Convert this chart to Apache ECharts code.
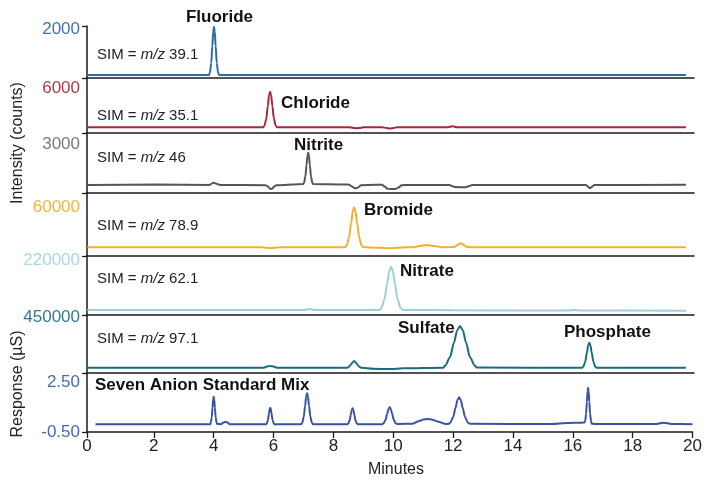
<!DOCTYPE html>
<html>
<head>
<meta charset="utf-8">
<script src="https://cdn.jsdelivr.net/npm/echarts@6/dist/echarts.min.js"></script>
<style>html,body{margin:0;padding:0;background:#fff}#c{width:705px;height:480px}</style>
</head>
<body>
<div id="c"></div>
<script>
// ---- data (minutes, signal) ----
const fluoride = [[-0.22,122],[3.835,122],[3.865,220],[3.908,614],[3.944,1303],[3.975,1893],[4.0,2090],[4.025,1893],[4.056,1303],[4.092,614],[4.135,220],[4.165,122],[10,122],[19.73,122]];
const chloride = [[-0.22,770],[2,760],[4,780],[5.645,770],[5.686,1010],[5.745,1970],[5.794,3650],[5.835,5090],[5.87,5570],[5.905,5090],[5.946,3650],[5.995,1970],[6.054,1010],[6.095,770],[7,760],[8.5,770],[8.65,690],[8.76,630],[8.88,690],[9.0,770],[9.6,770],[9.75,680],[9.87,620],[9.99,680],[10.1,770],[11.8,790],[11.95,900],[12.1,770],[14,770],[16,790],[18,770],[19.73,780]];
const nitrite = [[-0.22,490],[2.1,520],[3.85,490],[3.95,600],[4.0,630],[4.08,560],[4.2,490],[5.72,480],[5.8,400],[5.86,270],[5.9,245],[5.95,280],[6.0,400],[6.08,470],[6.6,520],[6.975,550],[7.005,640],[7.048,1020],[7.084,1700],[7.115,2277],[7.14,2470],[7.165,2277],[7.196,1700],[7.232,1020],[7.275,640],[7.305,550],[8.4,520],[8.5,510],[8.6,400],[8.68,300],[8.72,290],[8.8,340],[8.9,480],[9.4,500],[9.6,500],[9.7,380],[9.78,260],[9.9,245],[10.05,250],[10.15,330],[10.25,470],[10.35,490],[11.85,490],[11.95,420],[12.05,360],[12.35,350],[12.5,420],[12.6,490],[16.4,490],[16.47,380],[16.53,290],[16.6,380],[16.68,490],[19.73,500]];
const bromide = [[-0.22,10800],[5.6,10800],[5.87,9900],[6.2,10800],[8.37,10900],[8.425,13360],[8.503,23220],[8.569,40480],[8.624,55270],[8.67,60200],[8.716,55270],[8.771,40480],[8.837,23220],[8.915,13360],[8.97,11000],[9.2,10600],[9.87,9600],[10.4,10700],[10.6,10800],[10.85,12300],[11.09,13600],[11.35,12300],[11.6,10900],[12.0,11000],[12.1,13200],[12.22,15700],[12.34,13200],[12.45,11000],[12.7,10800],[19.73,10800]];
const nitrate = [[-0.22,20000],[7.0,20000],[7.18,24000],[7.35,20000],[9.51,20000],[9.581,28650],[9.683,63250],[9.769,123800],[9.84,175700],[9.9,193000],[9.96,175700],[10.031,123800],[10.117,63250],[10.219,28650],[10.29,20500],[12,19000],[15.8,18000],[16.0,20000],[16.2,18000],[19.73,17200]];
const sulfate = [[-0.22,43000],[5.65,43000],[5.8,54000],[5.87,57000],[5.95,54000],[6.1,43000],[8.43,43000],[8.5,50000],[8.57,70000],[8.63,90000],[8.67,97000],[8.71,90000],[8.77,70000],[8.84,50000],[8.92,42000],[9.3,34000],[9.9,32000],[10.3,38000],[11.64,43000],[11.71,59900],[11.866,127500],[11.998,245800],[12.108,347200],[12.2,381000],[12.292,347200],[12.402,245800],[12.534,127500],[12.69,59900],[12.76,44000],[16.27,43000],[16.314,53100],[16.376,93500],[16.429,164200],[16.473,224800],[16.51,245000],[16.547,224800],[16.591,164200],[16.644,93500],[16.706,53100],[16.75,43000],[19.73,42000]];
const mix = [[0.05,-0.04],[3.88,-0.04],[3.902,0.043],[3.933,0.375],[3.96,0.956],[3.982,1.454],[4.0,1.62],[4.018,1.454],[4.04,0.956],[4.067,0.375],[4.098,0.043],[4.12,-0.02],[4.25,-0.03],[4.33,0.07],[4.39,0.12],[4.46,0.07],[4.55,-0.04],[5.75,-0.04],[5.775,0.01],[5.812,0.21],[5.843,0.56],[5.868,0.86],[5.89,0.96],[5.912,0.86],[5.937,0.56],[5.968,0.21],[6.005,0.01],[6.03,-0.04],[6.92,-0.04],[6.96,0.053],[7.011,0.425],[7.054,1.076],[7.09,1.634],[7.12,1.82],[7.15,1.634],[7.186,1.076],[7.229,0.425],[7.28,0.053],[7.32,-0.03],[8.465,-0.03],[8.498,0.008],[8.543,0.2],[8.581,0.536],[8.613,0.824],[8.64,0.92],[8.667,0.824],[8.699,0.536],[8.737,0.2],[8.782,0.008],[8.815,-0.03],[9.63,-0.03],[9.677,0.02],[9.741,0.223],[9.796,0.576],[9.842,0.879],[9.88,0.98],[9.918,0.879],[9.964,0.576],[10.019,0.223],[10.083,0.02],[10.13,-0.02],[10.65,0.0],[10.85,0.15],[11.0,0.25],[11.14,0.28],[11.3,0.24],[11.5,0.12],[11.76,-0.02],[11.84,-0.02],[11.906,0.06],[12.0,0.38],[12.079,0.94],[12.145,1.42],[12.2,1.58],[12.255,1.42],[12.321,0.94],[12.4,0.38],[12.494,0.06],[12.56,-0.01],[15.3,-0.02],[15.8,0.04],[16.3,0.06],[16.39,0.07],[16.412,0.165],[16.443,0.585],[16.47,1.32],[16.492,1.95],[16.51,2.16],[16.528,1.95],[16.55,1.32],[16.577,0.585],[16.608,0.165],[16.63,0.0],[16.75,-0.02],[18.8,-0.02],[19.03,0.06],[19.3,-0.02],[20.0,-0.03]];

const seriesData = [fluoride, chloride, nitrite, bromide, nitrate, sulfate, mix];
const panelColors = ['#2d6aa3','#a52a37','#555555','#f6ae2d','#9ad0dc','#176c7e','#3852a6'];
const labelColors = ['#3d74ad','#b03a46','#7a7a7a','#f7b23b','#a8d8e3','#2b7d8f','#4d66b3'];
const yMins = [0, 0, 0, 0, 0, 0, -0.5];
const yMaxs = [2122, 7416, 3673, 77938, 236000, 470270, 3.04];
const yLabelValues = [[2000],[6000],[3000],[60000],[220000],[450000],[-0.5, 2.5]];
const yLabelTexts = [['2000'],['6000'],['3000'],['60000'],['220000'],['450000'],['-0.50','2.50']];
const xTickValues = [-0.233, 2, 4, 6, 8, 10, 12, 14, 16, 18, 20];
const xTickLabels = ['0','2','4','6','8','10','12','14','16','18','20'];
const simLabels = ['39.1','35.1','46','78.9','62.1','97.1'];
const peakNames = ['Fluoride','Chloride','Nitrite','Bromide','Nitrate','Sulfate','Phosphate','Seven Anion Standard Mix'];

// ---- layout ----
const panelTops = [26, 78, 133, 193, 256, 315, 373];
const panelBottoms = [78, 133, 193, 256, 315, 373, 432];
const LEFT = 87, RIGHT = 11, XMIN = -0.233, XMAX = 20;
const FONT = "'Liberation Sans', Arial, sans-serif";
const AX = '#1a1a1a';

const grids = [], xAxes = [], yAxes = [], series = [];
for (let i = 0; i < 7; i++) {
  grids.push({left: LEFT, right: RIGHT, top: panelTops[i], height: panelBottoms[i] - panelTops[i]});
  const last = i === 6;
  xAxes.push({
    type: 'value', gridIndex: i, min: XMIN, max: XMAX,
    axisLine: {show: true, onZero: false, lineStyle: {color: AX, width: 1.5}},
    axisTick: last ? {show: true, customValues: xTickValues, length: 6, lineStyle: {color: AX, width: 1.3}} : {show: false},
    axisLabel: last ? {show: true, customValues: xTickValues, margin: 6, color: '#222', fontSize: 17, fontFamily: FONT,
      formatter: function (v) { let k = 0, d = 1e9; xTickValues.forEach((t, j) => { if (Math.abs(t - v) < d) { d = Math.abs(t - v); k = j; } }); return xTickLabels[k]; }} : {show: false},
    splitLine: {show: false}
  });
  const tickVals = i === 0 ? [yMins[i], yMaxs[i]] : [yMins[i]];
  yAxes.push({
    type: 'value', gridIndex: i, min: yMins[i], max: yMaxs[i],
    axisLine: {show: true, onZero: false, lineStyle: {color: AX, width: 1.5}},
    axisTick: {show: true, customValues: tickVals, length: 5, lineStyle: {color: AX, width: 1.3}},
    axisLabel: {show: true, customValues: yLabelValues[i], margin: 7, color: labelColors[i], fontSize: 17, fontFamily: FONT,
      formatter: (function (idx) { return function (v) { const j = yLabelValues[idx].indexOf(v); return j >= 0 ? yLabelTexts[idx][j] : ''; }; })(i)},
    splitLine: {show: false}
  });
  series.push({
    type: 'line', xAxisIndex: i, yAxisIndex: i, data: seriesData[i],
    showSymbol: false, symbol: 'none', smooth: 0.3, smoothMonotone: 'x', clip: false,
    lineStyle: {color: panelColors[i], width: 2}, silent: true
  });
}

function t(text, x, y, size, bold, align) {
  return {type: 'text', x: x, y: y, silent: true,
    style: {text: text, fill: '#111', font: (bold ? 'bold ' : '') + size + 'px ' + FONT, textAlign: align || 'left', textVerticalAlign: 'middle'}};
}
const graphics = [
  t(peakNames[0], 219.5, 17.5, 17, true, 'center'),
  t(peakNames[1], 281, 103, 17, true),
  t(peakNames[2], 294, 145, 17, true),
  t(peakNames[3], 364, 210.5, 17, true),
  t(peakNames[4], 400, 271, 17, true),
  t(peakNames[5], 398, 328, 17, true),
  t(peakNames[6], 564, 332.5, 17, true),
  t(peakNames[7], 95, 385, 17, true)
];
const simY = [55, 116, 157.5, 226, 279, 339];
simLabels.forEach(function (s, i) {
  graphics.push({type: 'text', x: 97, y: simY[i], silent: true,
    style: {text: '{r|SIM = }{i|m/z}{r| ' + s + '}', textVerticalAlign: 'middle', textAlign: 'left',
      rich: {r: {fontSize: 15, fontFamily: FONT, fill: '#222', color: '#222'}, i: {fontSize: 15, fontFamily: FONT, fontStyle: 'italic', fill: '#222', color: '#222'}}}});
});
graphics.push({type: 'text', x: 18, y: 143, rotation: Math.PI / 2, silent: true,
  style: {text: 'Intensity (counts)', fill: '#222', font: '16px ' + FONT, textAlign: 'center', textVerticalAlign: 'middle'}});
graphics.push({type: 'text', x: 18, y: 384, rotation: Math.PI / 2, silent: true,
  style: {text: 'Response (µS)', fill: '#222', font: '16px ' + FONT, textAlign: 'center', textVerticalAlign: 'middle'}});
graphics.push({type: 'text', x: 396, y: 470, silent: true,
  style: {text: 'Minutes', fill: '#222', font: '16px ' + FONT, textAlign: 'center', textVerticalAlign: 'middle'}});

const chart = echarts.init(document.getElementById('c'), null, {renderer: 'canvas'});
chart.setOption({
  animation: false,
  backgroundColor: '#fff',
  grid: grids, xAxis: xAxes, yAxis: yAxes, series: series,
  graphic: graphics
});
</script>
</body>
</html>
